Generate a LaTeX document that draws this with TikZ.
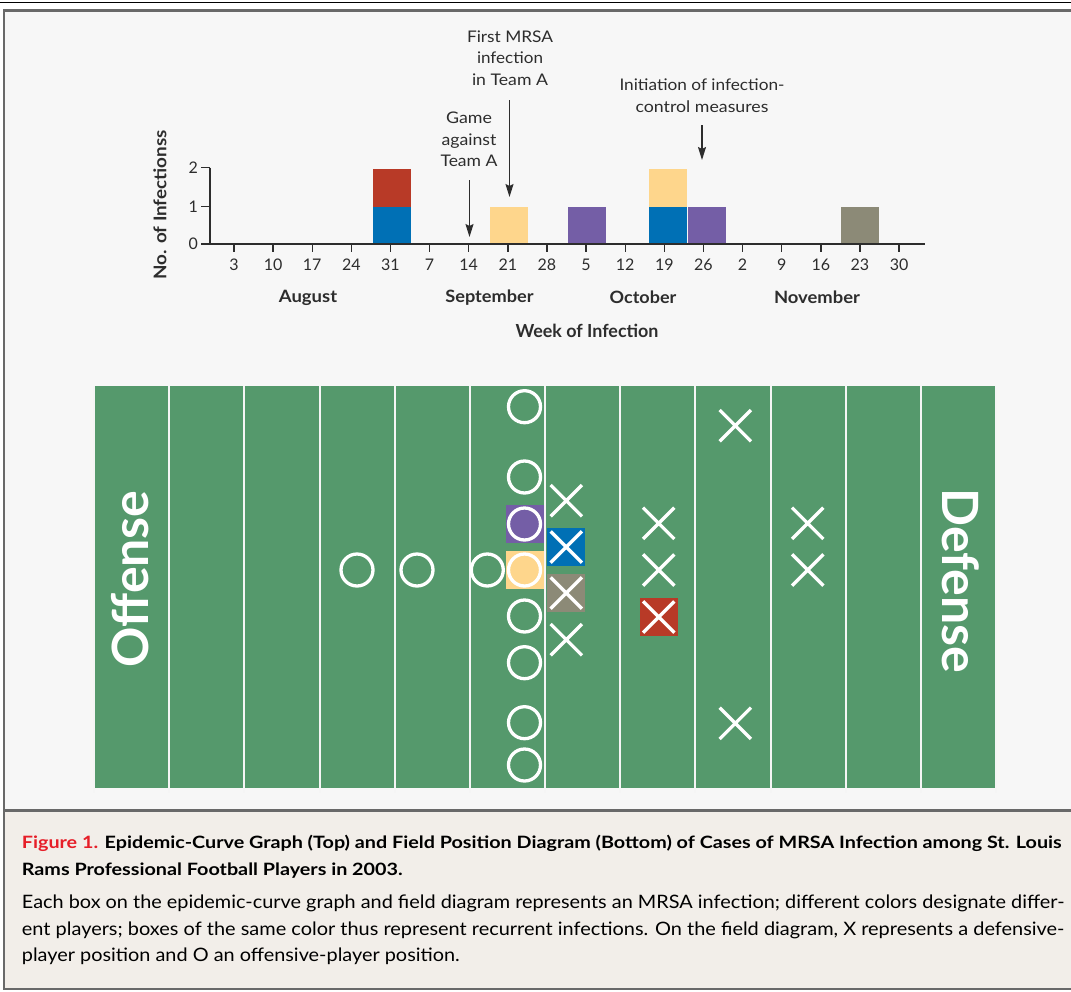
\documentclass[tikz,border=0pt]{standalone}
\usepackage{fontspec}
\setmainfont{Lato}
\usepackage{graphicx}
\usetikzlibrary{arrows.meta,shapes.misc}
\definecolor{fieldgreen}{RGB}{85,153,108}
\definecolor{cblue}{RGB}{0,112,181}
\definecolor{cred}{RGB}{184,58,39}
\definecolor{cyellow}{RGB}{254,214,140}
\definecolor{cpurple}{RGB}{116,94,166}
\definecolor{cgray}{RGB}{140,138,119}
\definecolor{panelbg}{RGB}{247,247,247}
\definecolor{capbg}{RGB}{242,238,233}
\definecolor{framegray}{RGB}{105,105,105}
\definecolor{figred}{RGB}{230,30,40}
\definecolor{inkc}{RGB}{45,45,45}
\definecolor{linewhite}{RGB}{245,245,245}
\newlength{\capwa}\newlength{\capwb}\newlength{\capwc}\newlength{\fitlen}
\newcommand{\capboldfont}{\bfseries\fontsize{17}{20}\selectfont}
\newcommand{\capbodyfont}{\fontsize{18.5}{22}\selectfont}
\newcommand{\fitw}[2]{\settowidth{\fitlen}{#2}\pgfmathsetmacro{\fitsc}{#1/\fitlen}\scalebox{\fitsc}[1]{#2}}
\begin{document}
\settowidth{\capwa}{\capboldfont Figure 1. Epidemic-Curve Graph (Top) and Field Position Diagram (Bottom) of Cases of MRSA Infection among St. Louis}%
\settowidth{\capwb}{\capbodyfont Each box on the epidemic-curve graph and field diagram represents an MRSA infection; different colors designate differ-}%
\settowidth{\capwc}{\capbodyfont ent players; boxes of the same color thus represent recurrent infections. On the field diagram, X represents a defensive-}%
\pgfmathsetmacro{\scA}{1039.5/\capwa}%
\pgfmathsetmacro{\scB}{1042.5/\capwb}%
\pgfmathsetmacro{\scC}{1042.5/\capwc}%
\begin{tikzpicture}[x=1pt,y=-1pt,
  axisline/.style={draw=inkc, line width=1.4},
  arr/.style={draw=inkc, line width=1.3, -{Stealth[length=13pt,width=8pt,inset=2pt]}},
  ticklab/.style={font=\fontsize{16}{16}\selectfont, text=inkc, inner sep=0},
  lab/.style={font=\fontsize{16}{21.4}\selectfont, text=inkc, align=center, inner sep=0},
  monthlab/.style={font=\bfseries\fontsize{17}{17}\selectfont, text=inkc, inner sep=0},
  fieldline/.style={draw=linewhite, line width=2},
  opos/.style={circle, draw=white, line width=3.3, minimum size=32, inner sep=0},
  xpos/.style={cross out, draw=white, line width=3.3, minimum size=28, inner sep=0},
  pbox/.style={rectangle, minimum size=38, inner sep=0, draw=none},
  fieldtext/.style={text=white, font=\bfseries\fontsize{50}{50}\selectfont, inner sep=0},
  capline/.style={anchor=base west, inner sep=0, text=black}
]
\useasboundingbox (0,0) rectangle (1071,991);
\fill[white] (0,0) rectangle (1071,991);
% panel backgrounds and frame
\fill[panelbg] (4,10.5) rectangle (1071,810.5);
\fill[capbg] (4,810.5) rectangle (1071,989);
\draw[black, line width=1.6] (0,2.3) -- (1071,2.3);
\draw[framegray, line width=2.5] (1071,10.5) -- (4,10.5) -- (4,989) -- (1071,989);
\draw[framegray, line width=2.5] (4,810.5) -- (1071,810.5);

% ---------- epidemic curve ----------
% bars
\fill[cblue]   (372.7,244) rectangle (410.7,206.5);
\fill[cred]    (372.7,206.5) rectangle (410.7,169);
\fill[cyellow] (490.1,244) rectangle (528.1,206.5);
\fill[cpurple] (568.3,244) rectangle (606.3,206.5);
\fill[cblue]   (648.7,244) rectangle (686.7,206.5);
\fill[cyellow] (648.7,206.5) rectangle (686.7,169);
\fill[cpurple] (687.9,244) rectangle (725.9,206.5);
\fill[cgray]   (840.6,244) rectangle (878.6,206.5);
% axes
\draw[axisline] (210,167.5) -- (210,244) -- (925,244);
\draw[axisline] (201,244) -- (210,244);
\draw[axisline] (201,206.3) -- (210,206.3);
\draw[axisline] (201,167.5) -- (210,167.5);
\node[ticklab, anchor=east] (y0) at (198,244) {0};
\node[ticklab, anchor=east] (y1) at (198,206.3) {1};
\node[ticklab, anchor=east] (y2) at (198,167.5) {2};
\foreach \lab [count=\i from 0] in {3,10,17,24,31,7,14,21,28,5,12,19,26,2,9,16,23,30} {
  \draw[axisline] (234+\i*39.12,244) -- (234+\i*39.12,251.5);
  \node[ticklab] (t\i) at (234+\i*39.12,265) {\lab};
}
\node[monthlab] (aug) at (308,297.5) {\fitw{58.3}{August}};
\node[monthlab] (sep) at (489.5,297.5) {\fitw{88.3}{September}};
\node[monthlab] (oct) at (643,297.5) {\fitw{66.7}{October}};
\node[monthlab] (nov) at (817,297.5) {\fitw{86}{November}};
\node[font=\bfseries\fontsize{18}{18}\selectfont, text=inkc, inner sep=0] (xlab) at (587,331) {\fitw{143}{Week of Infection}};
\node[font=\bfseries\fontsize{17.5}{17.5}\selectfont, text=inkc, inner sep=0, rotate=90] (ylab) at (160,205) {\fitw{149}{No. of Infectionss}};
% annotations
\node[lab] (game) at (469,139.5) {\fitw{46}{Game}\\\fitw{55}{against}\\\fitw{57}{Team A}};
\coordinate (gameA) at (469.5,180);
\coordinate (gameB) at (469.5,237);
\draw[arr] (gameA) -- (gameB);
\node[lab] (first) at (510,58) {\fitw{86}{First MRSA}\\\fitw{66}{infection}\\\fitw{76}{in Team A}};
\coordinate (firstA) at (509.5,100);
\coordinate (firstB) at (509.5,197);
\draw[arr] (firstA) -- (firstB);
\node[lab] (init) at (702,95.5) {\fitw{165}{Initiation of infection-}\\\fitw{133}{control measures}};
\coordinate (initA) at (702,125);
\coordinate (initB) at (702,160);
\draw[arr] (initA) -- (initB);

% ---------- field ----------
\fill[fieldgreen] (94,386) rectangle (996,788);
\foreach \k in {0,...,12} {
  \draw[fieldline] (94+\k*75.17,386) -- (94+\k*75.17,792.5);
}
\node[fieldtext, rotate=90] (offense) at (130,579) {Offense};
\node[fieldtext, rotate=-90] (defense) at (961,581) {Defense};
% coloured boxes
\node[pbox, fill=cpurple] (bp) at (525,524) {};
\node[pbox, fill=cyellow] (by) at (525,570) {};
\node[pbox, fill=cblue]   (bb) at (566,547) {};
\node[pbox, fill=cgray]   (bg) at (566,593) {};
\node[pbox, fill=cred]    (br) at (659,617) {};
% offensive players
\node[opos] (o1) at (524.5,406.7) {};
\node[opos] (o2) at (524.5,477) {};
\node[opos] (o3) at (524.5,524) {};
\node[opos] (o4) at (524.5,570) {};
\node[opos] (o5) at (524.5,616) {};
\node[opos] (o6) at (524.5,662.7) {};
\node[opos] (o7) at (524.5,722.7) {};
\node[opos] (o8) at (524.5,765) {};
\node[opos] (o9) at (357,570) {};
\node[opos] (o10) at (417,570) {};
\node[opos] (o11) at (487.3,570) {};
% defensive players
\node[xpos] (x1) at (566.3,500.7) {};
\node[xpos] (x2) at (566.3,547) {};
\node[xpos] (x3) at (566.3,593) {};
\node[xpos] (x4) at (566.3,639.7) {};
\node[xpos] (x5) at (658.7,523.3) {};
\node[xpos] (x6) at (658.7,570) {};
\node[xpos] (x7) at (658.7,617) {};
\node[xpos] (x8) at (735.3,425.7) {};
\node[xpos] (x9) at (735.3,723.3) {};
\node[xpos] (x10) at (807.7,523.3) {};
\node[xpos] (x11) at (807.7,570) {};

% ---------- caption ----------
\node[capline] (cap1) at (21.7,848) {\scalebox{\scA}[1]{\capboldfont\textcolor{figred}{Figure 1.} Epidemic-Curve Graph (Top) and Field Position Diagram (Bottom) of Cases of MRSA Infection among St. Louis}};
\node[capline] (cap2) at (21.7,875) {\scalebox{\scA}[1]{\capboldfont Rams Professional Football Players in 2003.}};
\node[capline] (cap3) at (21.7,908) {\scalebox{\scB}[1]{\capbodyfont Each box on the epidemic-curve graph and field diagram represents an MRSA infection; different colors designate differ-}};
\node[capline] (cap4) at (21.7,935) {\scalebox{\scC}[1]{\capbodyfont ent players; boxes of the same color thus represent recurrent infections. On the field diagram, X represents a defensive-}};
\node[capline] (cap5) at (21.7,961.7) {\scalebox{\scB}[1]{\capbodyfont player position and O an offensive-player position.}};
\end{tikzpicture}
\end{document}
